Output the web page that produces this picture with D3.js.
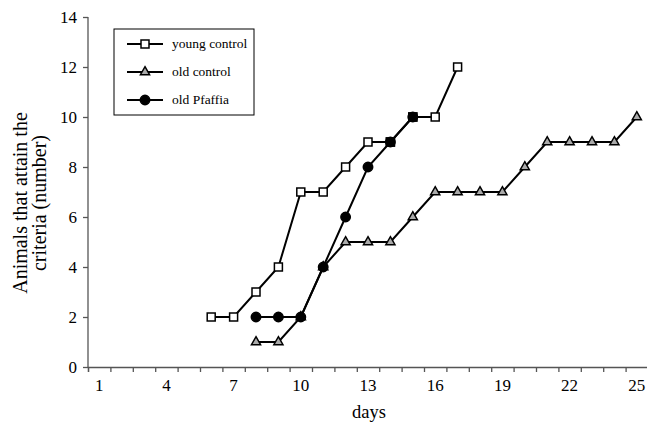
<!DOCTYPE html>
<html>
<head>
<meta charset="UTF-8">
<title></title>
<style>
  body { margin: 0; background: #fff; }
  text { font-family: "Liberation Serif", "Times New Roman", serif; fill: #000; }
</style>
</head>
<body>
<div id="svg"></div>
<script src="https://d3js.org/d3.v7.min.js"></script>
<script>
// data
var youngDays = [6, 7, 8, 9, 10, 11, 12, 13, 14, 15, 16, 17];
var youngVals = [2, 2, 3, 4, 7, 7, 8, 9, 9, 10, 10, 12];
var oldDays = [8, 9, 10, 11, 12, 13, 14, 15, 16, 17, 18, 19, 20, 21, 22, 23, 24, 25];
var oldVals = [1, 1, 2, 4, 5, 5, 5, 6, 7, 7, 7, 7, 8, 9, 9, 9, 9, 10];
var pfaffiaDays = [8, 9, 10, 11, 12, 13, 14, 15];
var pfaffiaVals = [2, 2, 2, 4, 6, 8, 9, 10];
var xTickLabels = [1, 4, 7, 10, 13, 16, 19, 22, 25];
var yTickLabels = [0, 2, 4, 6, 8, 10, 12, 14];

var width = 647, height = 429;
var svg = d3.select("#svg").append("svg")
    .attr("width", width).attr("height", height);

var x = d3.scaleLinear().domain([0.5, 25.5]).range([88, 648]);
var y = d3.scaleLinear().domain([0, 14]).range([367, 17]);

function pts(days, vals) {
    return days.map(function(d, i) { return [d, vals[i]]; });
}
var young = pts(youngDays, youngVals);
var old = pts(oldDays, oldVals);
var pfaffia = pts(pfaffiaDays, pfaffiaVals);

// y axis
var yAxis = svg.append("g")
    .attr("transform", "translate(88,0)")
    .call(d3.axisLeft(y).tickValues(yTickLabels).tickSize(5).tickPadding(6).tickFormat(d3.format("d")));
yAxis.selectAll("text").style("font-size", "17px");

// x axis: ticks between categories, labels every third day
var boundaries = d3.range(0.5, 25.6, 1);
var xAxis = svg.append("g")
    .attr("transform", "translate(0,367)")
    .call(d3.axisBottom(x).tickValues(boundaries).tickSize(5).tickFormat(""));
svg.append("g").selectAll("text")
    .data(xTickLabels).join("text")
    .attr("x", function(d) { return x(d); })
    .attr("y", 391)
    .attr("text-anchor", "middle")
    .style("font-size", "17px")
    .text(function(d) { return d; });

svg.selectAll(".domain, .tick line").attr("stroke", "#555").attr("stroke-width", 1.3);
yAxis.select(".domain").attr("d", "M0,17V367");

// axis titles
svg.append("text")
    .attr("x", 369).attr("y", 418)
    .attr("text-anchor", "middle")
    .style("font-size", "18.5px")
    .text("days");
var yt = svg.append("text")
    .attr("transform", "translate(27,203) rotate(-90)")
    .attr("text-anchor", "middle")
    .style("font-size", "20px");
yt.append("tspan").attr("x", 0).attr("dy", 0).text("Animals that attain the");
yt.append("tspan").attr("x", 0).attr("dy", 19).text("criteria (number)");

var line = d3.line()
    .x(function(d) { return x(d[0]); })
    .y(function(d) { return y(d[1]); });

[young, old, pfaffia].forEach(function(s) {
    svg.append("path").datum(s)
        .attr("fill", "none").attr("stroke", "#000").attr("stroke-width", 2)
        .attr("d", line);
});

var sq = d3.symbol().type(d3.symbolSquare).size(64);
var tri = d3.symbol().type(d3.symbolTriangle).size(36);
var circ = d3.symbol().type(d3.symbolCircle).size(70);

function markers(data, sym, fill, stroke) {
    svg.append("g").selectAll("path")
        .data(data).join("path")
        .attr("transform", function(d) { return "translate(" + x(d[0]) + "," + y(d[1]) + ")"; })
        .attr("d", sym)
        .attr("fill", fill)
        .attr("stroke", stroke)
        .attr("stroke-width", 1.5);
}
markers(young, sq, "#fff", "#000");
markers(old, tri, "#aaa", "#000");
markers(pfaffia, circ, "#000", "#000");
// where young and Pfaffia coincide the square shows filled
markers(young.filter(function(d) {
    return pfaffia.some(function(p) { return p[0] === d[0] && p[1] === d[1]; });
}), sq, "#000", "#000");

// legend
var legend = svg.append("g");
legend.append("rect")
    .attr("x", 114).attr("y", 29).attr("width", 140).attr("height", 86)
    .attr("fill", "#fff").attr("stroke", "#000").attr("stroke-width", 1);
var legendNames = ["young control", "old control", "old Pfaffia"];
var legendSyms = [sq, tri, circ];
var legendFills = ["#fff", "#aaa", "#000"];
legendNames.forEach(function(name, i) {
    var ly = 44 + i * 28;
    legend.append("line")
        .attr("x1", 127).attr("x2", 163).attr("y1", ly).attr("y2", ly)
        .attr("stroke", "#000").attr("stroke-width", 2);
    legend.append("path")
        .attr("transform", "translate(145," + ly + ")")
        .attr("d", legendSyms[i])
        .attr("fill", legendFills[i]).attr("stroke", "#000").attr("stroke-width", 1.5);
    legend.append("text")
        .attr("x", 172).attr("y", ly + 4)
        .style("font-size", "13.5px")
        .text(name);
});
</script>
</body>
</html>
